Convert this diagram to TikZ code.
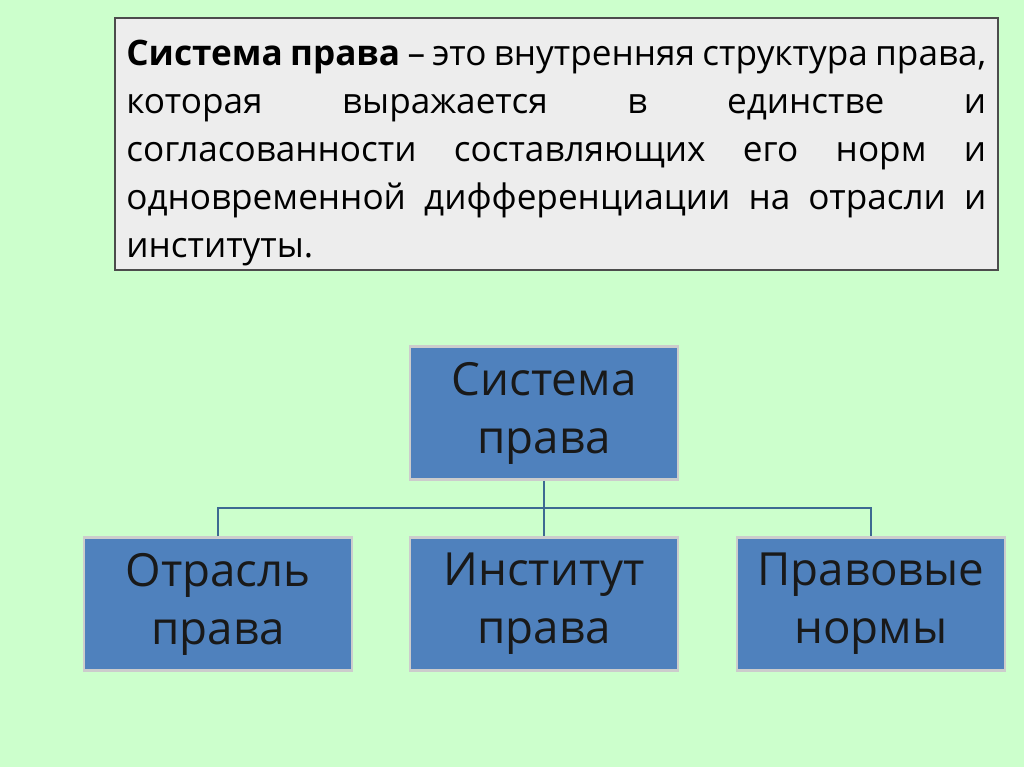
\documentclass[tikz,border=0pt]{standalone}
\usepackage{fontspec}
\setmainfont{Open Sans}
\definecolor{pagegreen}{HTML}{CCFFCC}
\definecolor{defgray}{HTML}{EDEDED}
\definecolor{boxblue}{HTML}{4F81BD}
\definecolor{linkblue}{HTML}{3D6A92}
\begin{document}
\begin{tikzpicture}[
      x=0.02cm, y=-0.02cm,
      defbox/.style={inner sep=0pt, text width=17.2cm, align=justify,
        font=\fontsize{20}{27.3}\selectfont, anchor=north west},
      unit/.style={draw=white!80!black, fill=boxblue, line width=1.5pt,
        minimum width=5.36cm, minimum height=2.66cm, align=center,
        text=black!90, font=\fontsize{26}{33}\selectfont},
      link/.style={draw=linkblue, line width=1.5pt}
      ]
      \fill[pagegreen] (0,0) rectangle (1024,767);
      \draw[draw=black!70, fill=defgray, line width=0.8pt] (115,18) rectangle (998,270);
      \node[defbox] (definition) at (126,40) {\textbf{Система права} – это внутренняя структура права,\linebreak которая выражается в единстве и\linebreak согласованности составляющих его норм и\linebreak одновременной дифференциации на отрасли и\linebreak институты.};

      \node[unit] (system) at (544,413) {Система\\права};
      \node[unit] (branch) at (218,604) {Отрасль\\права};
      \node[unit] (institute) at (544,604) {Институт\\права};
      \node[unit] (norms) at (871,604) {Правовые\\нормы};

      %tree edges
      \coordinate (fork) at (544,508);
      \draw[link] (system.south) -- (fork);
      \draw[link] (branch.north) |- (fork) -| (norms.north);
      \draw[link] (fork) -- (institute.north);
\end{tikzpicture}
\end{document}
